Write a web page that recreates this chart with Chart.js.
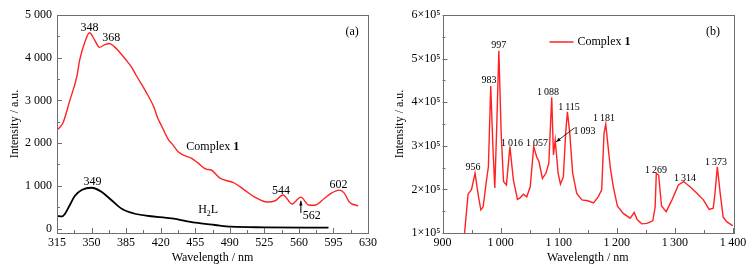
<!DOCTYPE html>
<html><head><meta charset="utf-8">
<script src="https://cdn.jsdelivr.net/npm/chart.js@4/dist/chart.umd.min.js"></script>
<style>
html,body{margin:0;padding:0;background:#fff;}
#wrap{position:relative;width:753px;height:273px;overflow:hidden;}
#ca{position:absolute;left:0;top:0;width:380px;height:273px;}
#cb{position:absolute;left:380px;top:0;width:373px;height:273px;}
</style></head>
<body><div id="wrap"><canvas id="ca" width="380" height="273"></canvas><canvas id="cb" width="373" height="273"></canvas></div>
<script>
// ---------- Panel (a) data ----------
const wavelengthsA = [315,321,328,335,338,343,348,353,358,363,368,373,378,385,391,395,398,405,413,417,421,428,431,438,445,451,458,466,471,480,495,505,515,528,536,544,553,562,570,576,586,593,601,606,611,620];
const complexA     = [2300,2470,3000,3550,3950,4350,4585,4420,4243,4300,4333,4260,4141,3946,3760,3595,3478,3204,2852,2588,2400,2075,2000,1790,1700,1650,1530,1390,1370,1180,1060,900,740,620,650,785,575,735,550,545,710,830,900,830,620,530];
const wavelengthsH2L = [315,320,323,328,333,340,350,360,370,381,395,408,431,455,475,491,525,590];
const h2lA           = [293,285,340,550,760,900,955,862,667,457,340,293,239,136,82,42,28,20];
const xTicksA = [315,350,385,420,455,490,525,560,595,630];
const xMinorA = [332.5,367.5,402.5,437.5,472.5,507.5,542.5,577.5,612.5];
const yTicksA = [0,1000,2000,3000,4000,5000];
const yTickLabelsA = ['0','1 000','2 000','3 000','4 000','5 000'];
const yMinorA = [500,1500,2500,3500,4500];
const peakLabelsA = ['348','368','349','544','602'];
const peakXA = [348,370,351,542,600];
const peakYA = [4696,4461,1089,878,1019];

// ---------- Panel (b) data ----------
const wavelengthsB = [935,938,944,950,956,962,966,970,975,979,983,987,990,993,997,1001,1005,1010,1016,1022,1029,1033,1039,1045,1051,1057,1062,1066,1072,1078,1083,1088,1091,1094,1099,1103,1108,1112,1115,1119,1124,1131,1140,1150,1160,1168,1174,1178,1181,1185,1189,1194,1201,1211,1223,1230,1235,1243,1252,1262,1266,1268,1272,1277,1285,1295,1306,1315,1326,1338,1349,1359,1366,1369,1373,1378,1383,1389,1398,1400];
const complexB     = [80000,100000,189000,200000,237000,183000,153000,160000,214000,252000,437000,290000,203000,329000,518000,329000,218000,210000,298000,222000,177000,180000,189000,183000,206000,298000,275000,264000,225000,237000,260000,411000,279000,313000,237000,212000,229000,329000,378000,329000,238000,191000,176000,174000,169000,183000,199000,329000,350000,298000,248000,206000,162000,145000,134000,147000,131000,121000,122000,128000,160000,237000,233000,162000,149000,176000,210000,218000,206000,191000,176000,154000,157000,191000,252000,191000,137000,126000,118000,117000];
const xTicksB = [900,1000,1100,1200,1300,1400];
const xTickLabelsB = ['900','1\u2009000','1\u2009100','1\u2009200','1\u2009300','1\u2009400'];
const xMinorB = [950,1050,1150,1250,1350];
const yTicksB = [100000,200000,300000,400000,500000,600000];
const yTickLabelsB = ['1×10⁵','2×10⁵','3×10⁵','4×10⁵','5×10⁵','6×10⁵'];
const yMinorB = [150000,250000,350000,450000,550000];
const peakLabelsB = ['997','983','1\u2009088','1\u2009115','1\u2009181','1\u2009093','956','1\u2009016','1\u2009057','1\u2009269','1\u2009314','1\u2009373'];
const peakXB = [997,980,1081.6,1117.7,1178,1144.4,952.5,1019.6,1062.7,1267.5,1317.4,1370.7];
const peakYB = [531000,449000,423000,389000,364000,334000,251000,306000,306000,244000,226000,263000];

const SERIF = '"Liberation Serif","Times New Roman",Times,serif';
Chart.defaults.font.family = SERIF;
Chart.defaults.color = '#000';

function frameTicks(chart, xMaj, xMin, yMaj, yMin) {
  const ctx = chart.ctx, a = chart.chartArea, xs = chart.scales.x, ys = chart.scales.y;
  ctx.save();
  ctx.strokeStyle = '#6e6e6e';
  ctx.lineWidth = 1;
  ctx.beginPath();
  xMaj.forEach(v => { const p = Math.round(xs.getPixelForValue(v)) + 0.5; ctx.moveTo(p, a.bottom); ctx.lineTo(p, a.bottom - 5); });
  xMin.forEach(v => { const p = Math.round(xs.getPixelForValue(v)) + 0.5; ctx.moveTo(p, a.bottom); ctx.lineTo(p, a.bottom - 3); });
  yMaj.forEach(v => { const p = Math.round(ys.getPixelForValue(v)) + 0.5; ctx.moveTo(a.left, p); ctx.lineTo(a.left + 5, p); });
  yMin.forEach(v => { const p = Math.round(ys.getPixelForValue(v)) + 0.5; ctx.moveTo(a.left, p); ctx.lineTo(a.left + 3, p); });
  ctx.stroke();
  ctx.strokeRect(Math.round(a.left) + 0.5, Math.round(a.top) + 0.5, Math.round(a.right - a.left), Math.round(a.bottom - a.top));
  ctx.restore();
}

function arrow(ctx, x1, y1, x2, y2, head) {
  const ang = Math.atan2(y2 - y1, x2 - x1);
  ctx.beginPath(); ctx.moveTo(x1, y1); ctx.lineTo(x2, y2); ctx.stroke();
  ctx.beginPath();
  ctx.moveTo(x2, y2);
  ctx.lineTo(x2 - head * Math.cos(ang - 0.35), y2 - head * Math.sin(ang - 0.35));
  ctx.lineTo(x2 - head * Math.cos(ang + 0.35), y2 - head * Math.sin(ang + 0.35));
  ctx.closePath(); ctx.fill();
}

const plugA = {
  id: 'decorA',
  afterDatasetsDraw(chart) {
    const ctx = chart.ctx, xs = chart.scales.x, ys = chart.scales.y;
    frameTicks(chart, xTicksA, xMinorA, yTicksA, yMinorA);
    ctx.save();
    ctx.fillStyle = '#000'; ctx.strokeStyle = '#000';
    ctx.textAlign = 'center'; ctx.textBaseline = 'middle';
    ctx.font = '12px ' + SERIF;
    peakLabelsA.forEach((t, i) => ctx.fillText(t, xs.getPixelForValue(peakXA[i]), ys.getPixelForValue(peakYA[i])));
    ctx.fillText('562', xs.getPixelForValue(573), ys.getPixelForValue(293));
    ctx.fillText('(a)', xs.getPixelForValue(614), ys.getPixelForValue(4602));
    // arrow to 562 peak
    ctx.lineWidth = 1;
    const ax = xs.getPixelForValue(562);
    arrow(ctx, ax, ys.getPixelForValue(363), ax, ys.getPixelForValue(650), 5);
    // Complex 1
    ctx.textAlign = 'left';
    let x0 = xs.getPixelForValue(446), y0 = ys.getPixelForValue(1909);
    ctx.font = '12px ' + SERIF;
    ctx.fillText('Complex ', x0, y0);
    let w = ctx.measureText('Complex ').width;
    ctx.font = 'bold 12px ' + SERIF;
    ctx.fillText('1', x0 + w, y0);
    // H2L
    x0 = xs.getPixelForValue(458); y0 = ys.getPixelForValue(433);
    ctx.font = '12px ' + SERIF;
    ctx.fillText('H', x0, y0);
    w = ctx.measureText('H').width;
    ctx.font = '8px ' + SERIF;
    ctx.fillText('2', x0 + w, y0 + 4);
    const w2 = ctx.measureText('2').width;
    ctx.font = '12px ' + SERIF;
    ctx.fillText('L', x0 + w + w2, y0);
    ctx.restore();
  }
};

const plugB = {
  id: 'decorB',
  afterDatasetsDraw(chart) {
    const ctx = chart.ctx, xs = chart.scales.x, ys = chart.scales.y, a = chart.chartArea;
    frameTicks(chart, xTicksB, xMinorB, yTicksB, yMinorB);
    ctx.save();
    ctx.fillStyle = '#000'; ctx.strokeStyle = '#000';
    ctx.textAlign = 'center'; ctx.textBaseline = 'middle';
    ctx.font = '10px ' + SERIF;
    peakLabelsB.forEach((t, i) => ctx.fillText(t, xs.getPixelForValue(peakXB[i]), ys.getPixelForValue(peakYB[i])));
    ctx.font = '12px ' + SERIF;
    ctx.fillText('(b)', xs.getPixelForValue(1365.6), ys.getPixelForValue(561000));
    // arrow to 1093
    ctx.lineWidth = 0.8;
    arrow(ctx, xs.getPixelForValue(1127), ys.getPixelForValue(341000), xs.getPixelForValue(1095.4), ys.getPixelForValue(309000), 5);
    // legend
    const ly = a.top + 27;
    ctx.strokeStyle = '#ff2222'; ctx.lineWidth = 1.5;
    ctx.beginPath(); ctx.moveTo(a.left + 107, ly); ctx.lineTo(a.left + 131, ly); ctx.stroke();
    ctx.textAlign = 'left';
    ctx.font = '12px ' + SERIF;
    const tx = a.left + 135;
    ctx.fillText('Complex ', tx, ly);
    const w = ctx.measureText('Complex ').width;
    ctx.font = 'bold 12px ' + SERIF;
    ctx.fillText('1', tx + w, ly);
    ctx.restore();
  }
};

function axisCommon(ticksArr, labelsArr, pad) {
  return {
    afterBuildTicks: s => { s.ticks = ticksArr.map(v => ({ value: v })); },
    ticks: { font: { size: 12 }, color: '#000', padding: pad, maxRotation: 0, autoSkip: false,
             callback: v => labelsArr[ticksArr.indexOf(v)] },
    grid: { display: false, drawTicks: false },
    border: { display: false }
  };
}

new Chart(document.getElementById('ca'), {
  type: 'line',
  data: {
    datasets: [
      { label: 'Complex 1', data: wavelengthsA.map((x, i) => ({ x, y: complexA[i] })),
        borderColor: '#ff2222', borderWidth: 1.4, pointRadius: 0, tension: 0.4, cubicInterpolationMode: 'monotone' },
      { label: 'H2L', data: wavelengthsH2L.map((x, i) => ({ x, y: h2lA[i] })),
        borderColor: '#000', borderWidth: 1.8, pointRadius: 0, tension: 0.4, cubicInterpolationMode: 'monotone' }
    ]
  },
  options: {
    responsive: false, animation: false, events: [],
    layout: { padding: { left: 0, right: 9, top: 15, bottom: 0 } },
    plugins: { legend: { display: false }, tooltip: { enabled: false } },
    scales: {
      x: Object.assign({ type: 'linear', min: 315, max: 630,
        title: { display: true, text: 'Wavelength / nm', font: { size: 12 }, padding: { top: 0, bottom: 7.8 } },
        afterFit: s => { s.height = 40; } }, axisCommon(xTicksA, xTicksA.map(String), 3)),
      y: Object.assign({ type: 'linear', min: -105, max: 5000,
        title: { display: true, text: 'Intensity / a.u.', font: { size: 12 }, padding: { top: 7.8, bottom: 0 } },
        afterFit: s => { s.width = 57; } }, axisCommon(yTicksA, yTickLabelsA, 5))
    }
  },
  plugins: [plugA]
});

new Chart(document.getElementById('cb'), {
  type: 'line',
  data: {
    datasets: [
      { label: 'Complex 1', data: wavelengthsB.map((x, i) => ({ x, y: complexB[i] })),
        borderColor: '#ff2222', borderWidth: 1.4, pointRadius: 0, tension: 0 }
    ]
  },
  options: {
    responsive: false, animation: false, events: [],
    layout: { padding: { left: 0, right: 20, top: 15, bottom: 0 } },
    plugins: { legend: { display: false }, tooltip: { enabled: false } },
    scales: {
      x: Object.assign({ type: 'linear', min: 900, max: 1400,
        title: { display: true, text: 'Wavelength / nm', font: { size: 12 }, padding: { top: 0, bottom: 7.8 } },
        afterFit: s => { s.height = 40; } }, axisCommon(xTicksB, xTickLabelsB, 3)),
      y: Object.assign({ type: 'linear', min: 100000, max: 600000,
        title: { display: true, text: 'Intensity / a.u.', font: { size: 12 }, padding: { top: 12.8, bottom: 0 } },
        afterFit: s => { s.width = 62.5; } }, axisCommon(yTicksB, yTickLabelsB, 2))
    }
  },
  plugins: [plugB]
});
</script>
</body></html>
